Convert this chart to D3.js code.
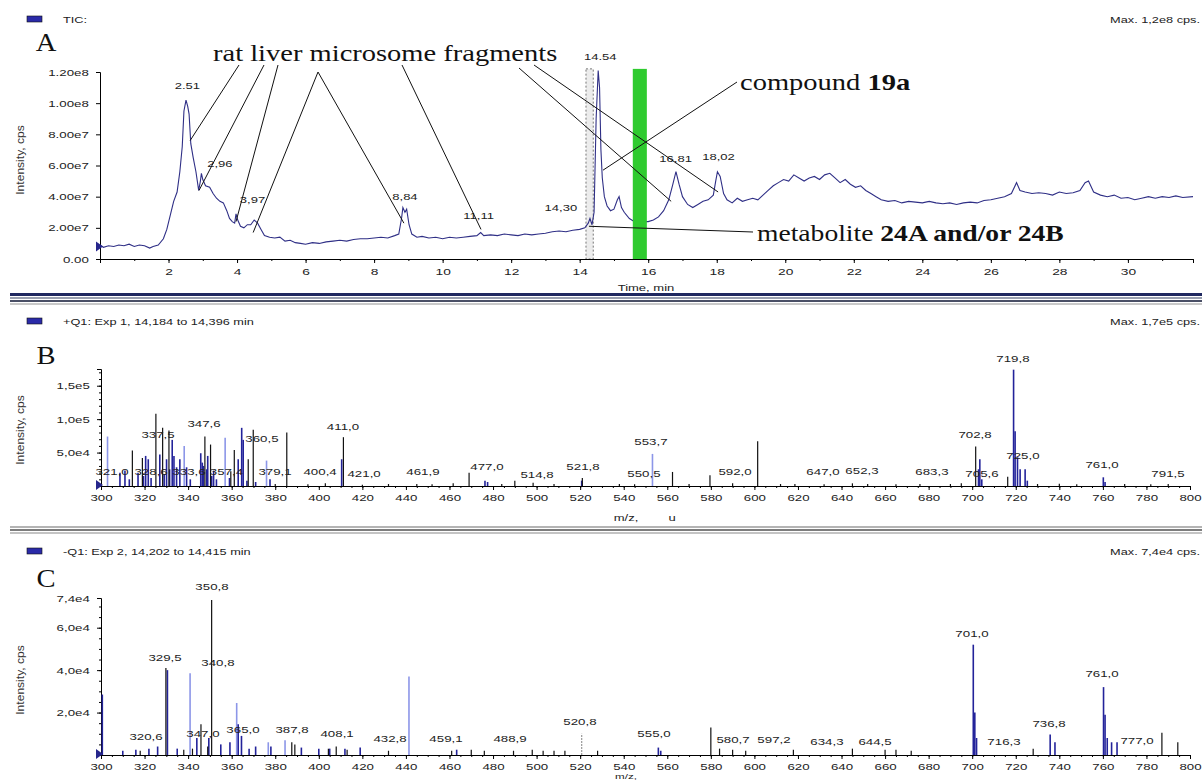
<!DOCTYPE html>
<html>
<head>
<meta charset="utf-8">
<script src="https://cdn.jsdelivr.net/npm/d3@7"></script>
<style>
body { margin: 0; background: #fff; }
svg { display: block; font-family: "Liberation Sans", Arial, sans-serif; }
</style>
</head>
<body>
<script>
// ---- panel A : TIC chromatogram (time min, intensity in 1e7 cps)
var ticTime = [0.0,0.1,0.25,0.4,0.55,0.7,0.85,1.0,1.15,1.3,1.45,1.55,1.7,1.85,1.95,2.05,2.15,2.25,2.33,2.4,2.45,2.51,2.56,2.6,2.65,2.72,2.8,2.88,2.93,2.96,3.0,3.08,3.2,3.3,3.4,3.5,3.6,3.7,3.78,3.86,3.93,3.97,4.02,4.1,4.2,4.3,4.4,4.5,4.6,4.7,4.8,4.95,5.1,5.25,5.4,5.55,5.7,5.85,6.0,6.2,6.4,6.6,6.8,7.0,7.2,7.4,7.6,7.8,8.0,8.2,8.4,8.6,8.72,8.8,8.84,8.9,8.95,9.02,9.1,9.25,9.4,9.6,9.8,10.0,10.2,10.4,10.6,10.8,11.0,11.11,11.2,11.4,11.6,11.8,12.0,12.2,12.4,12.6,12.8,13.0,13.2,13.4,13.6,13.8,14.0,14.15,14.25,14.3,14.36,14.42,14.48,14.54,14.58,14.62,14.66,14.72,14.8,14.9,15.0,15.1,15.15,15.22,15.3,15.45,15.6,15.8,16.0,16.15,16.3,16.45,16.6,16.72,16.81,16.9,17.0,17.15,17.3,17.45,17.6,17.75,17.9,17.97,18.02,18.1,18.2,18.3,18.45,18.6,18.75,18.9,19.05,19.2,19.35,19.5,19.65,19.8,19.95,20.1,20.25,20.4,20.55,20.7,20.85,21.0,21.15,21.3,21.45,21.6,21.75,21.9,22.05,22.2,22.35,22.5,22.65,22.8,23.0,23.2,23.4,23.6,23.8,24.0,24.2,24.4,24.6,24.8,25.0,25.2,25.4,25.6,25.8,26.0,26.2,26.4,26.6,26.75,26.85,27.0,27.2,27.4,27.6,27.8,28.0,28.2,28.4,28.6,28.75,28.85,29.0,29.2,29.4,29.6,29.8,30.0,30.2,30.4,30.6,30.8,31.0,31.2,31.4,31.6,31.9];
var ticInt = [0.9,0.75,0.85,0.8,0.9,0.85,0.95,0.8,0.9,0.85,0.7,0.8,0.9,1.3,1.9,2.8,3.7,4.3,5.6,7.2,9.5,10.2,9.8,9.3,7.4,6.5,5.6,4.4,5.0,5.5,5.1,4.7,4.6,4.2,3.9,3.7,3.6,3.1,2.6,2.4,2.3,2.9,2.5,2.1,2.0,2.2,2.2,2.5,2.3,1.9,1.5,1.4,1.35,1.4,1.15,1.2,1.05,1.0,0.95,1.05,1.0,1.1,1.15,1.2,1.15,1.25,1.3,1.3,1.35,1.4,1.35,1.5,1.6,2.6,3.3,3.0,3.2,2.2,1.6,1.4,1.45,1.35,1.4,1.3,1.4,1.35,1.4,1.45,1.5,1.7,1.5,1.55,1.5,1.6,1.55,1.5,1.6,1.55,1.6,1.65,1.75,1.8,1.75,1.85,1.9,2.0,2.3,2.6,2.2,3.0,9.0,12.1,11.0,7.0,5.2,4.0,3.4,3.1,3.2,3.8,4.0,3.3,3.0,2.6,2.4,2.4,2.4,2.5,2.7,3.1,3.8,4.8,5.6,4.8,4.0,3.5,3.3,3.5,3.7,3.8,4.1,5.0,5.6,5.3,4.2,3.8,3.6,3.9,3.7,3.8,3.9,3.8,4.1,4.4,4.7,4.9,5.1,5.0,5.4,5.2,5.0,5.2,5.3,5.1,5.4,5.5,5.2,4.9,5.1,4.8,4.6,4.7,4.4,4.2,4.0,3.8,3.7,3.75,3.6,3.7,3.65,3.6,3.7,3.6,3.55,3.6,3.5,3.6,3.65,3.6,3.75,3.8,3.9,4.0,4.2,4.9,4.4,4.3,4.2,4.25,4.2,4.1,4.3,4.2,4.25,4.4,4.9,5.0,4.3,4.1,4.0,4.1,3.9,3.95,3.8,3.9,4.0,3.9,4.0,3.95,4.05,3.95,4.0];
var aTicks = [2,4,6,8,10,12,14,16,18,20,22,24,26,28,30];
var aYTicks = [0, 2e7, 4e7, 6e7, 8e7, 1e8, 1.2e8];
var aYLabels = ["0.00","2.00e7","4.00e7","6.00e7","8.00e7","1.00e8","1.20e8"];
var aPeakText = ["2.51","2,96","3,97","8,84","11,11","14,30","14.54","16,81","18,02"];
var aPeakT = [2.55,3.5,4.45,8.9,11.05,13.45,14.6,16.8,18.05];
var aPeakI = [10.9e7,5.9e7,3.6e7,3.8e7,2.57e7,3.1e7,12.8e7,6.2e7,6.35e7];
var selStart = 14.184, selEnd = 14.396;
var uvStart = 15.55, uvEnd = 15.96;
// annotation targets [time, intensity]
var fragTargets = [[2.63,7.6e7],[2.89,4.4e7],[3.97,2.4e7],[4.47,1.7e7],[8.87,2.3e7],[11.12,1.9e7],[16.67,3.7e7],[18.04,4.3e7]];
var compoundTarget = [14.68, 5.7e7];
var metaboliteTarget = [14.27, 2.1e7];

// ---- panel B : +Q1 spectrum
var bBlackMz = [314.4,319,325.2,328.3,331.2,347.7,350.3,359.6,361.2,367.6,369.9,385.3,411.3,461.7,469,490,498.4,521,562.4,579.6,601.5,701.6,716.3,380,395,403,420,432,445,452,484,508,538,545,570,590,612,618.6,632,645,652,665,676,690,695,730,740,748,770,782,790];
var bBlackInt = [53000,42000,108000,87000,83000,74000,62000,22000,54000,40000,84000,80000,73000,4000,20000,8000,5000,12000,21000,16000,67000,59000,14000,3000,2500,4000,2000,3000,3000,2500,3000,3000,3000,2500,3000,4000,3000,3000,2500,4000,3000,2500,3000,3000,4000,3000,3500,2500,3000,2500,3000];
var bNavyMz = [308.7,311,313,317,319.5,320.5,321.7,323,327,329,330.1,331.5,332.7,333.5,334.7,336.2,339.3,341,345.8,346.5,347,348.5,349,350.8,351.7,353,359,363,364.6,365.3,367,371,377.6,410.5,476.3,477.5,520.7,702.9,703.5,704.4,719,719.7,720.8,722,724.3,725.3,760.2,761];
var bNavyInt = [20000,23000,10000,20000,15000,45000,40000,12000,47000,18000,40000,25000,69000,45000,28000,40000,28000,10000,49000,35000,30000,25000,45000,15000,23000,10000,12000,40000,87000,69000,8000,6000,10000,40000,8000,6000,8000,25000,40000,10000,174000,82000,43000,25000,25000,8000,13000,6000];
var bLightMz = [303,338.2,357,376,553.2];
var bLightInt = [74000,60000,72000,38000,48000];
var bYTicks = [5e4, 1e5, 1.5e5];
var bYLabels = ["5,0e4","1,0e5","1,5e5"];
var bPeakText = ["321,0","328,6","333,6","337,5","347,6","360,5","357,4","379,1","400,4","421,0","411,0","461,9","477,0","514,8","521,8","553,7","550,5","592,0","647,0","652,3","683,3","705,6","702,8","719,8","725,0","761,0","791,5"];
var bPeakMz = [305.1,323.0,340.4,326.2,347.3,373.9,357.6,379.9,400.6,420.8,411.1,447.8,477.2,500.2,521.3,552.5,549.3,591.1,631.5,649.4,681.5,704.5,701.3,718.7,723.3,759.6,789.9];
var bPeakI = [16500,16500,16500,71800,88300,65800,16500,16500,16500,13500,83800,16500,24000,12000,24000,61300,13500,16500,16500,18000,16500,13500,71800,185000,40400,27000,13500];

// ---- panel C : -Q1 spectrum
var cBlackMz = [318,329.8,338,342,345.9,349,350.8,387.6,389,404.4,408,413,432,461,470,476,489.4,498,503,508,513,528,580,584,590,596,617.9,645,660,665,672,728,787.1,794.4];
var cBlackInt = [2000,41000,2500,3000,14500,4000,73000,6000,5000,3000,4000,2500,2000,2000,2500,2000,2000,2500,2000,2000,2000,2000,13000,3000,2500,2000,2500,3000,2500,2500,2000,3000,10500,6000];
var cNavyMz = [300.6,310,316,322,326,330.5,335,344,349.5,355,359.2,363,364.5,368,371,378,392,400,405,412,419,463.3,555.9,557,700.5,701.2,702,735.8,738,760.3,761,762,764,766.5];
var cNavyInt = [28500,2000,2500,3000,4000,40000,3000,8000,8000,5000,6000,14500,9000,3000,4000,4000,3500,3000,3000,3000,3500,2500,3500,2000,52000,20000,8000,9700,6000,32000,19000,8000,6000,6000];
var cLightMz = [340.9,362.3,376.8,384.5,441.4];
var cLightInt = [38500,24500,6000,7000,37000];
var cGrayMz = [520.7];
var cGrayInt = [10000];
var cYTicks = [2e4, 4e4, 6e4, 7.4e4];
var cYLabels = ["2,0e4","4,0e4","6,0e4","7,4e4"];
var cPeakText = ["350,8","329,5","340,8","320,6","347,0","365,0","387,8","408,1","432,8","459,1","488,9","520,8","555,0","580,7","597,2","634,3","644,5","701,0","716,3","736,8","761,0","777,0"];
var cPeakMz = [350.96,329.4,353.7,320.7,346.8,365.2,387.7,408.4,432.7,458.4,487.8,519.9,553.9,590.2,609.0,633.3,655.4,699.9,714.6,735.3,759.6,775.7];
var cPeakI = [77800,44100,42000,7100,8500,10400,10400,8500,6100,6100,6100,14100,8500,5700,5700,4700,4700,55600,4700,13200,36800,5200];

var msTicks = d3.range(300, 801, 20);

var W = 1202, H = 782;
var svg = d3.select("body").append("svg").attr("width", W).attr("height", H);

var SANS = "'Liberation Sans', Arial, sans-serif";
var SERIF = "'Liberation Serif', 'Times New Roman', serif";
var NAVY = "#23239a", LIGHT = "#8c96e8";

function txt(g, x, y, s, o) {
    o = o || {};
    return g.append("text")
        .attr("transform", "translate(" + x + "," + y + ") scale(" + (o.sx || 1.45) + ",1)")
        .attr("text-anchor", o.anchor || "middle")
        .attr("font-size", o.size || 9.5)
        .attr("font-family", o.family || SANS)
        .attr("font-weight", o.weight || "normal")
        .attr("fill", o.fill || "#222")
        .text(s);
}

function styleAxis(g, sx) {
    g.attr("font-size", null).attr("font-family", SANS);
    g.select(".domain").attr("stroke", "#000").attr("stroke-width", 1);
    g.selectAll(".tick line").attr("stroke", "#000");
    g.selectAll(".tick text").attr("font-size", 9.5).attr("fill", "#222")
        .attr("transform", "scale(" + sx + ",1)");
}

function header(y, s, maxText) {
    svg.append("rect").attr("x", 27).attr("y", y - 7).attr("width", 15).attr("height", 6)
        .attr("fill", "#2a2aa8").attr("stroke", "#111").attr("stroke-width", 0.6);
    txt(svg, 63, y, s, {anchor: "start", size: 8.5, sx: 1.5});
    txt(svg, 1200, y, maxText, {anchor: "end", size: 8.5, sx: 1.5});
}

function yTitle(cy) {
    svg.append("text")
        .attr("transform", "translate(24," + cy + ") rotate(-90) scale(1.15,1)")
        .attr("text-anchor", "middle").attr("font-size", 10.5).attr("fill", "#333")
        .attr("font-family", SANS).text("Intensity, cps");
}

function marker(x, y) {
    svg.append("path").attr("d", "M" + (x - 4) + "," + (y - 5) + "L" + (x + 3) + "," + y + "L" + (x - 4) + "," + (y + 5) + "Z")
        .attr("fill", "#26268c");
}

// ================= panel A =================
var xA = d3.scaleLinear().domain([0, 31.9]).range([100, 1193]);
var yA = d3.scaleLinear().domain([0, 1.2e8]).range([259, 72]);

header(23, "TIC:", "Max. 1,2e8 cps.");
txt(svg, 46, 51, "A", {family: SERIF, size: 26, sx: 1.1, fill: "#111"});

// selection window (B/C scans)
svg.append("rect")
    .attr("x", xA(selStart)).attr("y", yA(1.22e8))
    .attr("width", xA(selEnd) - xA(selStart)).attr("height", yA(0) - yA(1.22e8))
    .attr("fill", "#ececec").attr("stroke", "#777").attr("stroke-dasharray", "2,2");

var gA = svg.append("g");
gA.append("g").attr("transform", "translate(0," + yA(0) + ")")
    .call(d3.axisBottom(xA).tickValues(d3.range(1, 32, 1)).tickSize(2).tickFormat(""))
    .call(function (g) { styleAxis(g, 1); });
gA.append("g").attr("transform", "translate(0," + yA(0) + ")")
    .call(d3.axisBottom(xA).tickValues(aTicks).tickSize(4).tickPadding(5).tickFormat(function (d) { return d; }))
    .call(function (g) { styleAxis(g, 1.45); });
gA.append("g").attr("transform", "translate(" + xA(0) + ",0)")
    .call(d3.axisLeft(yA).tickValues(aYTicks).tickSize(4).tickPadding(4)
        .tickFormat(function (d, i) { return aYLabels[i]; }))
    .call(function (g) { styleAxis(g, 1.4); });

txt(svg, 646, 291, "Time, min", {size: 9, sx: 1.45});
yTitle(160);

var ticData = ticTime.map(function (t, i) { return [t, ticInt[i] * 1e7]; });
gA.append("path").datum(ticData)
    .attr("fill", "none").attr("stroke", "#2f2f86").attr("stroke-width", 1.1)
    .attr("d", d3.line().x(function (d) { return xA(d[0]); }).y(function (d) { return yA(d[1]); }));
marker(xA(0), yA(0.8e7));

// UV / compound window
svg.append("rect")
    .attr("x", xA(uvStart)).attr("y", yA(1.22e8))
    .attr("width", xA(uvEnd) - xA(uvStart)).attr("height", yA(0) - yA(1.22e8))
    .attr("fill", "#2fcb2f");

aPeakText.forEach(function (s, i) {
    txt(svg, xA(aPeakT[i]), yA(aPeakI[i]), s, {size: 9, sx: 1.45});
});

// annotations
var ann = svg.append("g").attr("stroke", "#111").attr("stroke-width", 1).attr("fill", "none");
var fragStarts = [[239,65],[264,65],[278,65],[318,72],[318,72],[402,65],[519,68],[534,65]];
fragTargets.forEach(function (d, i) {
    ann.append("line").attr("x1", fragStarts[i][0]).attr("y1", fragStarts[i][1])
        .attr("x2", xA(d[0])).attr("y2", yA(d[1]));
});
ann.append("line").attr("x1", 737).attr("y1", 82)
    .attr("x2", xA(compoundTarget[0])).attr("y2", yA(compoundTarget[1]));
ann.append("line").attr("x1", 753).attr("y1", 232)
    .attr("x2", xA(metaboliteTarget[0])).attr("y2", yA(metaboliteTarget[1]));

txt(svg, 213, 61, "rat liver microsome fragments", {family: SERIF, size: 23, sx: 1.24, anchor: "start", fill: "#111"});
var t19 = txt(svg, 740, 90, "compound ", {family: SERIF, size: 23, sx: 1.24, anchor: "start", fill: "#111"});
t19.append("tspan").attr("font-weight", "bold").text("19a");
var t24 = txt(svg, 757, 241, "metabolite ", {family: SERIF, size: 23, sx: 1.2, anchor: "start", fill: "#111"});
t24.append("tspan").attr("font-weight", "bold").text("24A and/or 24B");

// separator A/B
svg.append("rect").attr("x", 10).attr("y", 293).attr("width", 1192).attr("height", 3).attr("fill", "#1f2860");
svg.append("rect").attr("x", 10).attr("y", 297).attr("width", 1192).attr("height", 2).attr("fill", "#9aa0b0");
svg.append("rect").attr("x", 10).attr("y", 300).attr("width", 1192).attr("height", 2).attr("fill", "#4a4f66");
svg.append("rect").attr("x", 10).attr("y", 303).attr("width", 1192).attr("height", 2).attr("fill", "#c9c9c9");

// ================= spectra =================
var xMS = d3.scaleLinear().domain([300, 800]).range([101, 1190]);

function spectrum(y, series, yTicks, yLabels, labText, labMz, labI) {
    var g = svg.append("g");
    g.append("g").attr("transform", "translate(0," + y(0) + ")")
        .call(d3.axisBottom(xMS).tickValues(d3.range(300, 801, 5)).tickSize(2).tickFormat(""))
        .call(function (a) { styleAxis(a, 1); });
    g.append("g").attr("transform", "translate(0," + y(0) + ")")
        .call(d3.axisBottom(xMS).tickValues(msTicks).tickSize(4).tickPadding(4).tickFormat(function (d) { return d; }))
        .call(function (a) { styleAxis(a, 1.4); });
    var ya = d3.axisLeft(y).tickValues(yTicks).tickSize(4).tickPadding(4)
        .tickFormat(function (d, i) { return yLabels[i]; });
    g.append("g").attr("transform", "translate(" + xMS(300) + ",0)")
        .call(ya).call(function (a) { styleAxis(a, 1.4); });
    g.append("g").attr("transform", "translate(" + xMS(300) + ",0)")
        .call(d3.axisLeft(y).ticks(14).tickSize(2).tickFormat(""))
        .call(function (a) { styleAxis(a, 1); a.select(".domain").remove(); });

    series.forEach(function (s) {
        g.append("g").selectAll("line").data(s.mz).enter().append("line")
            .attr("x1", function (d) { return xMS(d); })
            .attr("x2", function (d) { return xMS(d); })
            .attr("y1", y(0))
            .attr("y2", function (d, i) { return y(s.v[i]); })
            .attr("stroke", s.color).attr("stroke-width", s.w || 1.2)
            .attr("stroke-dasharray", s.dash || null);
    });
    labText.forEach(function (s, i) {
        txt(g, xMS(labMz[i]), y(labI[i]), s, {size: 9.5, sx: 1.4});
    });
    marker(xMS(300) - 1, y(0) - 1);
}

// panel B
var yB = d3.scaleLinear().domain([0, 1.75e5]).range([486, 369]);
header(325, "+Q1: Exp 1, 14,184 to 14,396 min", "Max. 1,7e5 cps.");
txt(svg, 46, 364, "B", {family: SERIF, size: 26, sx: 1.1, fill: "#111"});
spectrum(yB, [
    {mz: bLightMz, v: bLightInt, color: LIGHT, w: 1.6},
    {mz: bNavyMz, v: bNavyInt, color: NAVY, w: 1.6},
    {mz: bBlackMz, v: bBlackInt, color: "#111", w: 1.2}
], bYTicks, bYLabels, bPeakText, bPeakMz, bPeakI);
yTitle(430);
txt(svg, 626, 521, "m/z,", {size: 9, sx: 1.45});
txt(svg, 672, 521, "u", {size: 9, sx: 1.45});

// separator B/C
svg.append("rect").attr("x", 10).attr("y", 526).attr("width", 1192).attr("height", 2).attr("fill", "#b4b4b4");
svg.append("rect").attr("x", 10).attr("y", 529).attr("width", 1192).attr("height", 2).attr("fill", "#7d7d7d");
svg.append("rect").attr("x", 10).attr("y", 532).attr("width", 1192).attr("height", 2).attr("fill", "#c4c4c4");

// panel C
var yC = d3.scaleLinear().domain([0, 7.4e4]).range([755, 598]);
header(555, "-Q1: Exp 2, 14,202 to 14,415 min", "Max. 7,4e4 cps.");
txt(svg, 46, 587, "C", {family: SERIF, size: 26, sx: 1.1, fill: "#111"});
spectrum(yC, [
    {mz: cGrayMz, v: cGrayInt, color: "#999", w: 1.2, dash: "2,1"},
    {mz: cLightMz, v: cLightInt, color: LIGHT, w: 1.6},
    {mz: cNavyMz, v: cNavyInt, color: NAVY, w: 1.6},
    {mz: cBlackMz, v: cBlackInt, color: "#111", w: 1.2}
], cYTicks, cYLabels, cPeakText, cPeakMz, cPeakI);
yTitle(680);
txt(svg, 626, 779, "m/z,", {size: 8, sx: 1.45});
</script>
</body>
</html>
